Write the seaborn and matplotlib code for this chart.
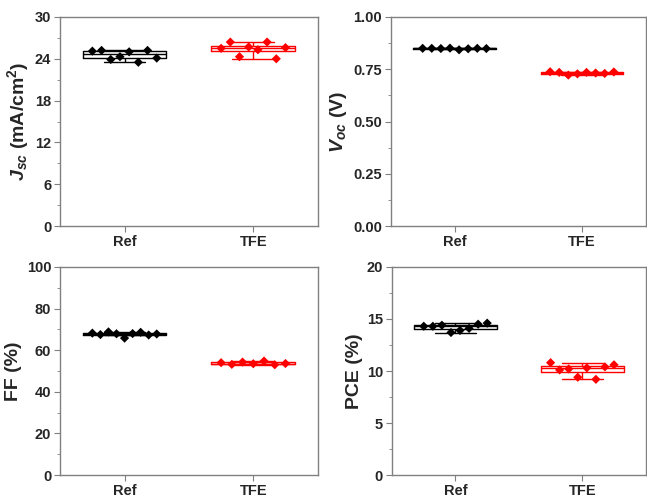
import numpy as np
import pandas as pd
import matplotlib
matplotlib.use("Agg")
import matplotlib.pyplot as plt
import seaborn as sns
from matplotlib.ticker import AutoMinorLocator, FormatStrFormatter

# DATOS
groups = ["Ref", "TFE"]
jsc_ref = [25.1, 25.2, 23.9, 24.3, 25.0, 23.5, 25.2, 24.1]
jsc_tfe = [25.5, 26.4, 24.3, 25.7, 25.3, 26.4, 24.0, 25.6]
voc_ref = [0.850, 0.850, 0.849, 0.851, 0.843, 0.848, 0.850, 0.849]
voc_tfe = [0.738, 0.735, 0.722, 0.728, 0.735, 0.732, 0.730, 0.737]
ff_ref = [68.2, 67.5, 68.8, 67.9, 65.8, 68.0, 68.6, 67.3, 67.8]
ff_tfe = [54.0, 53.2, 54.3, 53.5, 54.8, 53.0, 53.6]
pce_ref = [14.3, 14.3, 14.4, 13.7, 13.9, 14.1, 14.5, 14.6]
pce_tfe = [10.8, 10.1, 10.2, 9.4, 10.3, 9.2, 10.4, 10.6]

y_labels = [r"$\mathbfit{J}_{\mathbfit{sc}}$ (mA/cm$^{\mathbf{2}}$)",
            r"$\mathbfit{V}_{\mathbfit{oc}}$ (V)",
            "FF (%)", "PCE (%)"]
y_lims = [(0, 30), (0, 1.0), (0, 100), (0, 20)]
y_steps = [6, 0.25, 20, 5]

colores = {"Ref": "#000000", "TFE": "#ff0000"}

sns.set_style("ticks")
plt.rcParams["font.family"] = ["Liberation Sans", "DejaVu Sans"]
plt.rcParams["font.weight"] = "bold"
plt.rcParams["mathtext.fontset"] = "custom"
plt.rcParams["mathtext.rm"] = "Liberation Sans:bold"
plt.rcParams["mathtext.bf"] = "Liberation Sans:bold"
plt.rcParams["mathtext.it"] = "Liberation Sans:italic:bold"
plt.rcParams["mathtext.bfit"] = "Liberation Sans:italic:bold"


def armar_df(ref, tfe):
    df = pd.DataFrame({"grupo": ["Ref"] * len(ref) + ["TFE"] * len(tfe),
                       "valor": list(ref) + list(tfe)})
    # posicion horizontal de cada punto repartida sobre la caja
    pos = []
    for i, vals in enumerate([ref, tfe]):
        pos += list(i + np.linspace(-0.25, 0.25, len(vals)))
    df["pos"] = pos
    return df


datos = [armar_df(jsc_ref, jsc_tfe), armar_df(voc_ref, voc_tfe),
         armar_df(ff_ref, ff_tfe), armar_df(pce_ref, pce_tfe)]

fig = plt.figure(figsize=(6.47, 4.99), dpi=100)
fig.set_facecolor("white")
rects = [[0.093, 0.547, 0.398, 0.419],
         [0.604, 0.547, 0.394, 0.419],
         [0.093, 0.048, 0.398, 0.417],
         [0.606, 0.048, 0.392, 0.417]]

for k in range(4):
    ax = fig.add_axes(rects[k])
    df = datos[k]
    sns.boxplot(ax=ax, data=df, x="grupo", y="valor", hue="grupo",
                order=groups, palette=colores, fill=False, width=0.65,
                linewidth=1, showfliers=False, legend=False)
    sns.scatterplot(ax=ax, data=df, x="pos", y="valor", hue="grupo",
                    palette=colores, marker="D", s=22, edgecolor=None,
                    linewidth=0, legend=False, zorder=5)
    ax.set_xlim(-0.5, 1.5)
    ax.set_xticks([0, 1])
    ax.set_xticklabels(groups)
    ax.set_ylim(*y_lims[k])
    ax.set_yticks(np.arange(y_lims[k][0], y_lims[k][1] + 1e-9, y_steps[k]))
    if k == 1:
        ax.yaxis.set_major_formatter(FormatStrFormatter("%.2f"))
    ax.yaxis.set_minor_locator(AutoMinorLocator(2))
    ax.set_xlabel(None)
    ax.set_ylabel(y_labels[k], fontsize=14, fontweight="bold", labelpad=3)
    for s in ax.spines.values():
        s.set_visible(True)
        s.set_color("#808080")
        s.set_linewidth(1.0)
    ax.tick_params(axis="both", which="both", color="#808080",
                   labelsize=10.5, direction="out", pad=2.5)
    ax.tick_params(axis="both", which="major", length=4)
    ax.tick_params(axis="y", which="minor", length=2.5)
    for t in ax.get_xticklabels() + ax.get_yticklabels():
        t.set_fontweight("bold")

plt.savefig("out.png", dpi=100, facecolor="white")
